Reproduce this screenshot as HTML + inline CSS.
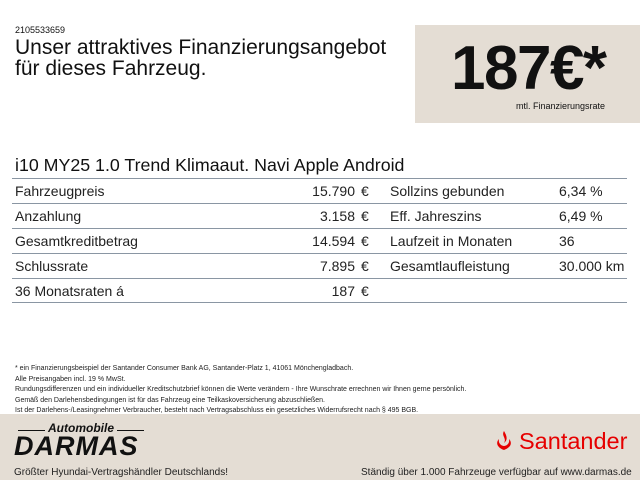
<!DOCTYPE html>
<html><head><meta charset="utf-8"><style>
*{margin:0;padding:0;box-sizing:border-box}
body{width:640px;height:480px;background:#fff;font-family:"Liberation Sans",sans-serif;color:#111;position:relative;overflow:hidden}
.a{position:absolute;white-space:nowrap}
.box{position:absolute;left:415px;top:25px;width:225px;height:98px;background:#e4ddd4}
.foot{position:absolute;left:0;top:414px;width:640px;height:66px;background:#e4ddd4}
.line{position:absolute;height:1px;background:#8a96a3}
.r{font-size:14px;color:#222}
</style></head><body>
<div class="a" style="left:15px;top:25px;font-size:9px">2105533659</div>
<div class="a" style="left:15px;top:37px;font-size:21px;line-height:21px;color:#111">Unser attraktives Finanzierungsangebot<br>für dieses Fahrzeug.</div>
<div class="box"></div>
<div class="a" style="left:451px;top:36px;font-size:62px;font-weight:bold;letter-spacing:-1.5px;line-height:66px">187€*</div>
<div class="a" style="left:516px;top:101px;font-size:9px">mtl. Finanzierungsrate</div>

<div class="a" style="left:15px;top:155px;font-size:17.8px">i10 MY25 1.0 Trend Klimaaut. Navi Apple Android</div>
<div class="line" style="left:12px;top:178px;width:615px"></div>

<div class="a r" style="left:15px;top:183px">Fahrzeugpreis</div>
<div class="a r" style="left:250px;top:183px;width:105px;text-align:right">15.790</div>
<div class="a r" style="left:361px;top:183px">€</div>
<div class="a r" style="left:390px;top:183px">Sollzins gebunden</div>
<div class="a r" style="left:559px;top:183px">6,34 %</div>
<div class="line" style="left:12px;top:203px;width:615px"></div>

<div class="a r" style="left:15px;top:208px">Anzahlung</div>
<div class="a r" style="left:250px;top:208px;width:105px;text-align:right">3.158</div>
<div class="a r" style="left:361px;top:208px">€</div>
<div class="a r" style="left:390px;top:208px">Eff. Jahreszins</div>
<div class="a r" style="left:559px;top:208px">6,49 %</div>
<div class="line" style="left:12px;top:228px;width:615px"></div>

<div class="a r" style="left:15px;top:233px">Gesamtkreditbetrag</div>
<div class="a r" style="left:250px;top:233px;width:105px;text-align:right">14.594</div>
<div class="a r" style="left:361px;top:233px">€</div>
<div class="a r" style="left:390px;top:233px">Laufzeit in Monaten</div>
<div class="a r" style="left:559px;top:233px">36</div>
<div class="line" style="left:12px;top:253px;width:615px"></div>

<div class="a r" style="left:15px;top:258px">Schlussrate</div>
<div class="a r" style="left:250px;top:258px;width:105px;text-align:right">7.895</div>
<div class="a r" style="left:361px;top:258px">€</div>
<div class="a r" style="left:390px;top:258px">Gesamtlaufleistung</div>
<div class="a r" style="left:559px;top:258px">30.000 km</div>
<div class="line" style="left:12px;top:278px;width:615px"></div>

<div class="a r" style="left:15px;top:283px">36 Monatsraten á</div>
<div class="a r" style="left:250px;top:283px;width:105px;text-align:right">187</div>
<div class="a r" style="left:361px;top:283px">€</div>
<div class="line" style="left:12px;top:302px;width:615px"></div>

<div class="a" style="left:15px;top:364px;font-size:7px;line-height:10.5px;color:#222">* ein Finanzierungsbeispiel der Santander Consumer Bank AG, Santander-Platz 1, 41061 Mönchengladbach.<br>Alle Preisangaben incl. 19 % MwSt.<br>Rundungsdifferenzen und ein individueller Kreditschutzbrief können die Werte verändern - Ihre Wunschrate errechnen wir Ihnen gerne persönlich.<br>Gemäß den Darlehensbedingungen ist für das Fahrzeug eine Teilkaskoversicherung abzuschließen.<br>Ist der Darlehens-/Leasingnehmer Verbraucher, besteht nach Vertragsabschluss ein gesetzliches Widerrufsrecht nach § 495 BGB.</div>

<div class="foot"></div>
<div class="a" style="left:18px;top:430px;width:126px;height:1px;background:#111"></div>
<div class="a" style="left:45px;top:421px;font-size:12px;font-style:italic;font-weight:bold;background:#e4ddd4;padding:0 3px">Automobile</div>
<div class="a" style="left:14px;top:434px;font-size:27px;line-height:25px;font-style:italic;font-weight:bold;letter-spacing:1px">DARMAS</div>
<svg class="a" style="left:492px;top:429px" width="24" height="24" viewBox="0 0 24 24"><path d="M12 2 C9 7 15 9 12 14 C16 11 15 7 12 2Z M7 10 C4 13 4 18 12 21 C20 18 20 13 17 10 C18 14 15 17 12 17 C9 17 6 14 7 10Z" fill="#e60000"/></svg>
<div class="a" style="left:519px;top:428px;font-size:23.5px;color:#e60000">Santander</div>
<div class="a" style="left:14px;top:467px;font-size:10px;color:#222">Größter Hyundai-Vertragshändler Deutschlands!</div>
<div class="a" style="left:361px;top:467px;font-size:10px;color:#222">Ständig über 1.000 Fahrzeuge verfügbar auf www.darmas.de</div>
</body></html>
